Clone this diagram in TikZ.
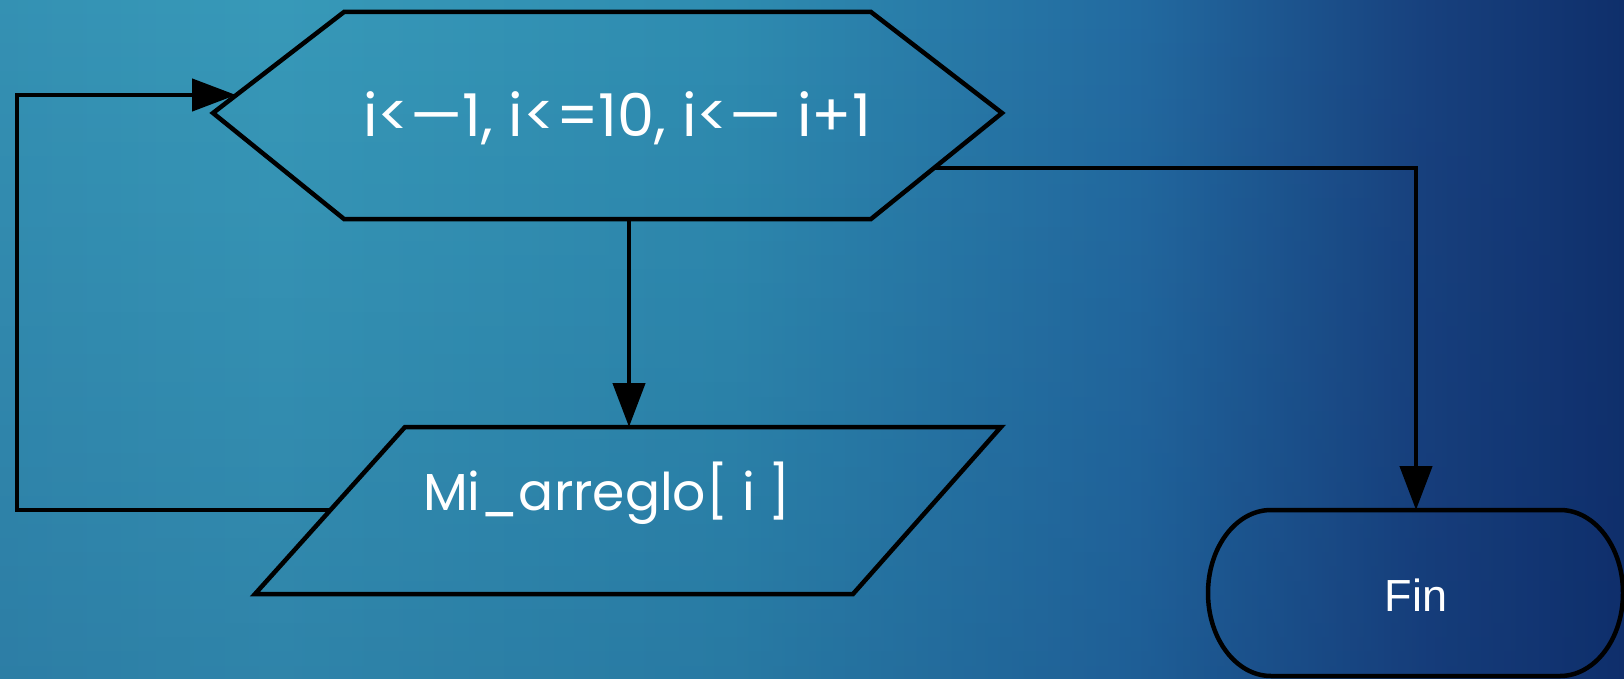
\documentclass[tikz,border=0pt]{standalone}
\usepackage{fontspec}
\setmainfont{Poppins}
\newfontfamily\finfont{Liberation Sans}
\usetikzlibrary{arrows.meta,fadings}

\definecolor{bgA}{HTML}{3592B4}
\definecolor{bgB}{HTML}{389AB9}
\definecolor{bgC}{HTML}{2F8DB1}
\definecolor{bgD}{HTML}{236BA1}
\definecolor{bgE}{HTML}{18417E}
\definecolor{bgF}{HTML}{10306C}
\definecolor{bgShade}{HTML}{0B2A6A}

% TikZ fits the band 25bp--75bp of a declared shading to the path
\pgfdeclarehorizontalshading{deck}{100bp}{%
  color(0bp)=(bgA); color(25bp)=(bgA); color(33.5bp)=(bgB);
  color(47.5bp)=(bgC); color(60bp)=(bgD); color(69bp)=(bgE);
  color(75bp)=(bgF); color(100bp)=(bgF)}

\tikzset{
  outline/.style={draw=black, line width=4.5pt, line join=miter},
  flow/.style={draw=black, line width=4.5pt,
    -{Triangle[length=44pt, width=32pt]}},
  label/.style={text=white, inner sep=0pt, anchor=base},
  hexfont/.style={font=\fontsize{59}{64}\selectfont},
  boxfont/.style={font=\fontsize{52}{58}\selectfont},
  endfont/.style={font=\finfont\fontsize{45}{50}\selectfont},
}

\begin{document}
\begin{tikzpicture}[x=1pt, y=-1pt]
  \useasboundingbox (0,0) rectangle (1624,679);
  \shade[shading=deck] (0,0) rectangle (1624,679);
  % slight darkening towards the bottom edge
  \fill[bgShade, path fading=north, fill opacity=0.2] (-20,-20) rectangle (1644,699);

  % loop header (hexagon)
  \draw[outline] (213,113) -- (344,12) -- (871,12) -- (1002,113)
    -- (871,219) -- (344,219) -- cycle;
  \node[label, hexfont] (loop) at (617,137) {i<—1, i<=10, i<— i+1};
  \coordinate (loopIn)   at (236,95);
  \coordinate (loopDown) at (629,219);
  \coordinate (loopOut)  at (933,168);

  % output (parallelogram)
  \draw[outline] (405,427) -- (1001,427) -- (853,594) -- (255,594) -- cycle;
  \node[label, boxfont] (out) at (607,510) {Mi\_arreglo[ i ]};
  \coordinate (outTop)  at (629,427);
  \coordinate (outLeft) at (330,510);

  % terminator
  \draw[outline] (1271,510) -- (1560,510)
    arc[start angle=-90, end angle=90, x radius=63, y radius=83]
    -- (1271,676)
    arc[start angle=90, end angle=270, x radius=63, y radius=83] -- cycle;
  \node[label, endfont] (fin) at (1416,611) {Fin};
  \coordinate (finTop) at (1416,510);

  % connectors
  \draw[flow] (loopDown) -- (outTop);
  \draw[flow] (outLeft) -- (17,510) -- (17,95) -- (loopIn);
  \draw[flow] (loopOut) -- (1416,168) -- (finTop);
\end{tikzpicture}
\end{document}
